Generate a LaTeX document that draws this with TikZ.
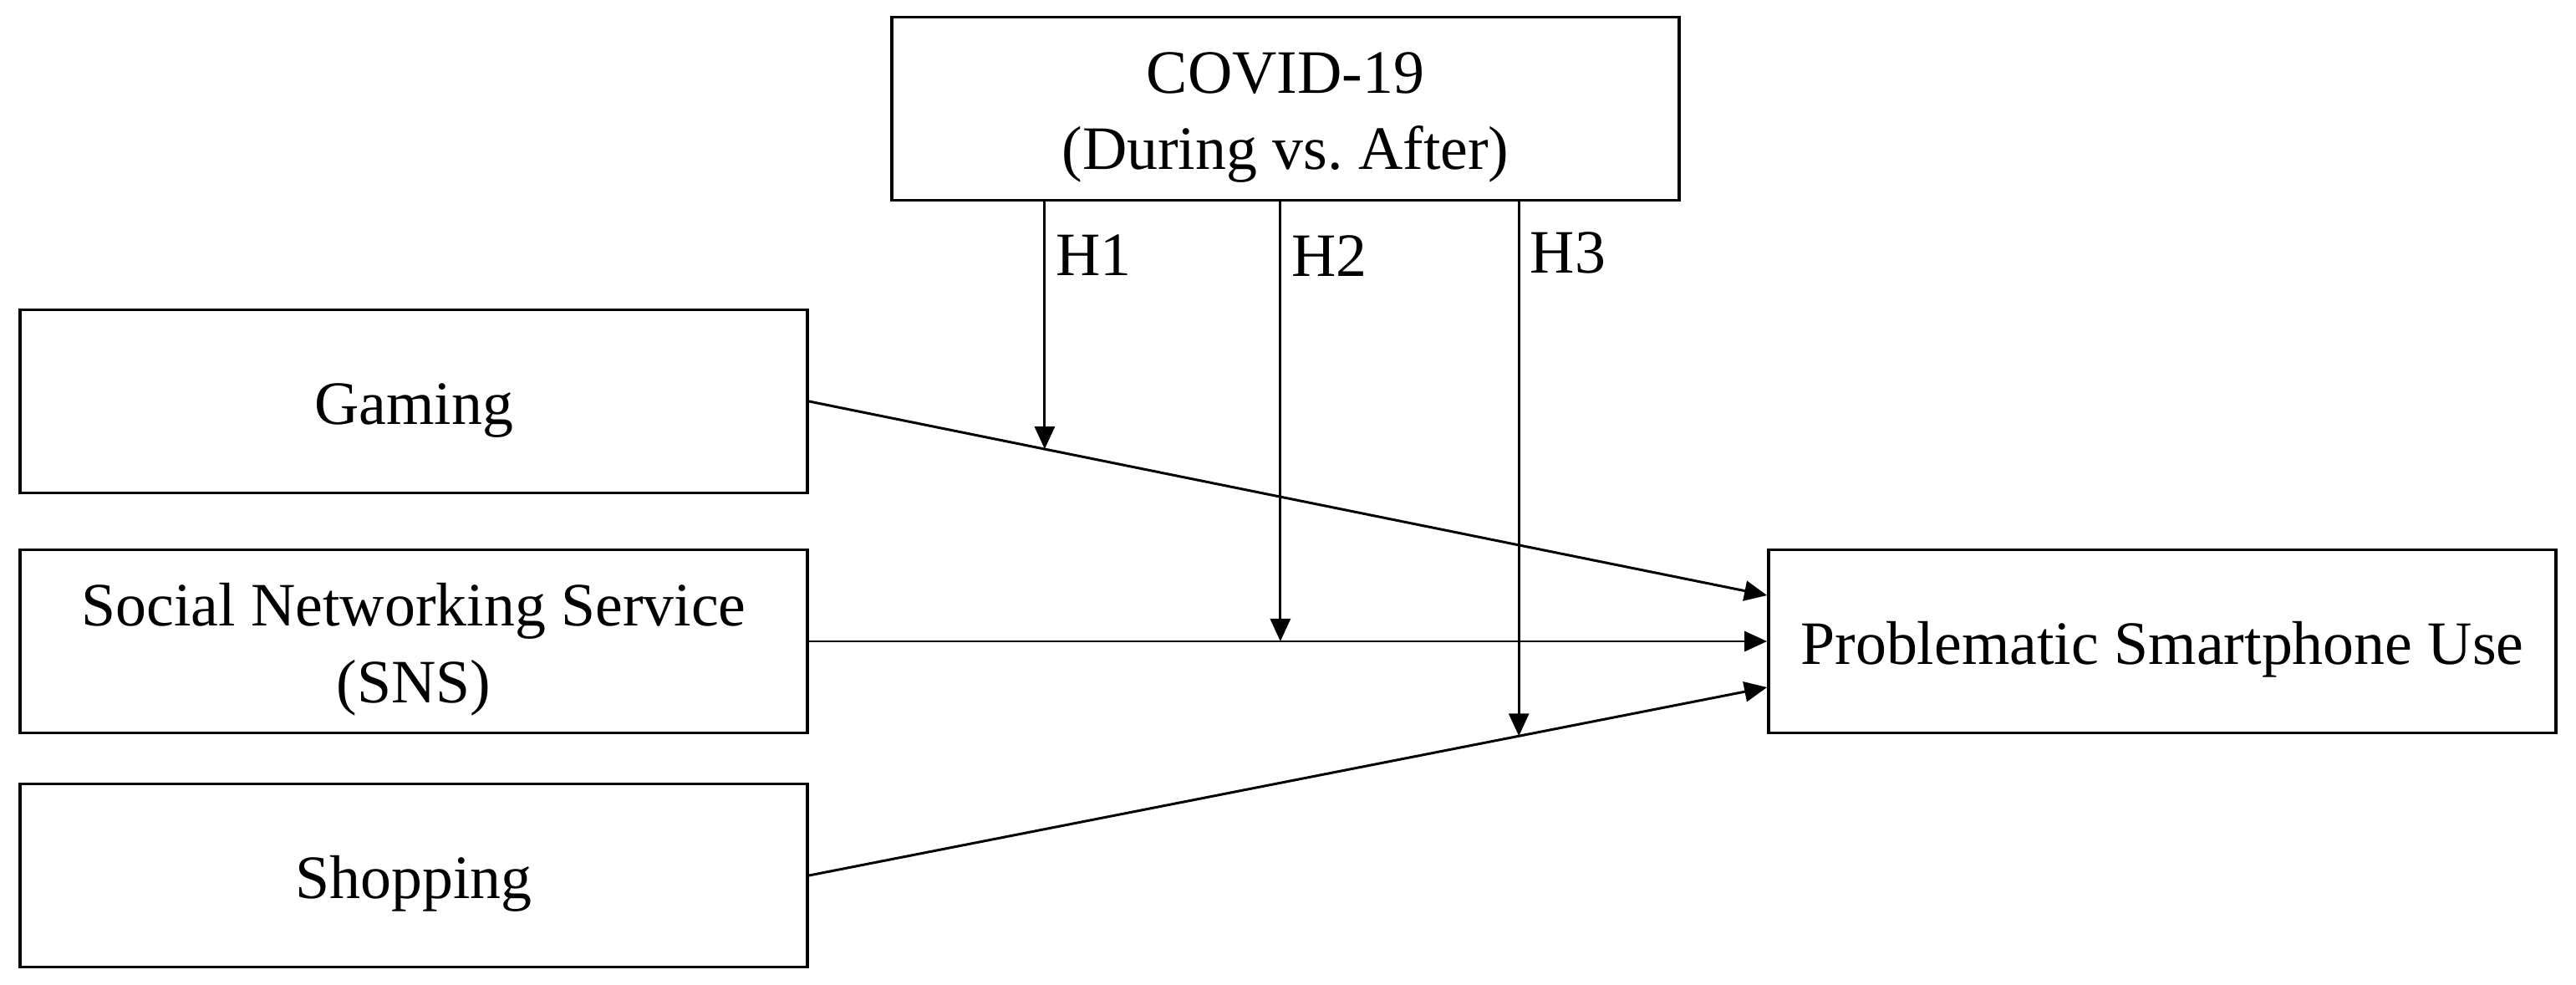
\documentclass[tikz,border=0pt]{standalone}
\usepackage{fontspec}
\setmainfont{Liberation Serif}
\usetikzlibrary{arrows.meta,calc}
\newcommand{\topstrut}{\rule{0pt}{0.70cm}}

\begin{document}
\begin{tikzpicture}[
  font=\fontsize{21}{26.1}\selectfont,
  >={Triangle[length=2.7mm, width=2.4mm]},
  var/.style={draw, line width=1.1pt, align=center, inner sep=0pt, minimum width=9.42cm, minimum height=2.19cm},
  link/.style={->, line width=0.85pt},
  hlab/.style={anchor=north west, inner sep=0pt},
]
\useasboundingbox (0,0) rectangle (30.82,11.77);

% ---- moderator, predictors and outcome
\node[var] (covid)    at (15.38,10.47) {\topstrut COVID-19\\(During vs.\ After)};
\node[var] (gaming)   at (4.95,6.97)   {\topstrut Gaming};
\node[var] (sns)      at (4.95,4.10)   {\topstrut Social Networking Service\\(SNS)};
\node[var] (shopping) at (4.95,1.30)   {\topstrut Shopping};
\node[var] (psu)      at (25.87,4.10)  {\topstrut Problematic Smartphone Use};

% ---- direct paths
\coordinate (psuhi) at ($(psu.west)+(0,0.55)$);
\coordinate (psulo) at ($(psu.west)+(0,-0.55)$);
\draw[link] (gaming.east)   -- coordinate[pos=0.246] (m1) (psuhi);
\draw[link] (sns.east)      -- coordinate[pos=0.492] (m2) (psu.west);
\draw[link] (shopping.east) -- coordinate[pos=0.741] (m3) (psulo);

% ---- moderation, H1--H3
\draw[link] (covid.south -| m1) -- (m1);
\draw[link] (covid.south -| m2) -- (m2);
\draw[link] (covid.south -| m3) -- (m3);
\node[hlab] (h1) at ($(covid.south -| m1)+(0.13,-0.39)$) {H1};
\node[hlab] (h2) at ($(covid.south -| m2)+(0.13,-0.39)$) {H2};
\node[hlab] (h3) at ($(covid.south -| m3)+(0.13,-0.36)$) {H3};
\end{tikzpicture}
\end{document}
